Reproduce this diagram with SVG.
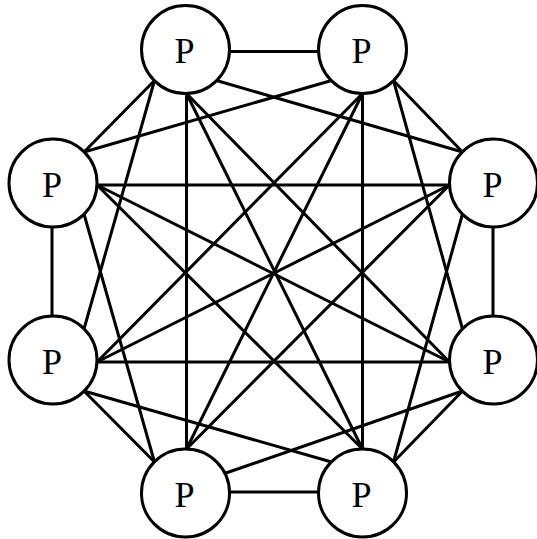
<svg xmlns="http://www.w3.org/2000/svg" width="537" height="539" viewBox="0 0 537 539">
<style>
.e{stroke:#000;stroke-width:3;fill:none;stroke-linecap:round}
.n circle{fill:#fff;stroke:#000;stroke-width:3}
.n text{font-family:"Liberation Serif","Times New Roman",serif;font-size:36px;text-anchor:middle;fill:#000}
</style>
<rect width="537" height="539" fill="#fff"/>
<g id="connectors" class="e">
<line x1="229.5" y1="51.5" x2="318.5" y2="51.5"/>
<line x1="216.5" y1="80.5" x2="462.5" y2="152"/>
<line x1="186.5" y1="93.5" x2="186.5" y2="449"/>
<line x1="186.5" y1="93.5" x2="362.5" y2="449"/>
<line x1="186.5" y1="93.5" x2="449.5" y2="362"/>
<line x1="154.5" y1="80.5" x2="84" y2="152"/>
<line x1="154.5" y1="80.5" x2="84" y2="329"/>
<line x1="331.5" y1="80.5" x2="84" y2="152"/>
<line x1="362.5" y1="93.5" x2="362.5" y2="449"/>
<line x1="362.5" y1="93.5" x2="186.5" y2="449"/>
<line x1="362.5" y1="93.5" x2="97" y2="362"/>
<line x1="393.5" y1="80.5" x2="462.5" y2="152"/>
<line x1="393.5" y1="80.5" x2="462.5" y2="329"/>
<line x1="493" y1="227" x2="493" y2="316"/>
<line x1="462.5" y1="214" x2="393.5" y2="462"/>
<line x1="449.5" y1="185" x2="97" y2="185"/>
<line x1="449.5" y1="185" x2="97" y2="362"/>
<line x1="449.5" y1="185" x2="186.5" y2="449"/>
<line x1="449.5" y1="362" x2="97" y2="362"/>
<line x1="449.5" y1="362" x2="97" y2="185"/>
<line x1="462.5" y1="391" x2="393.5" y2="462"/>
<line x1="462.5" y1="391" x2="226" y2="473"/>
<line x1="318.5" y1="492" x2="229.5" y2="492"/>
<line x1="331.5" y1="462" x2="84" y2="391"/>
<line x1="362.5" y1="449" x2="97" y2="185"/>
<line x1="154.5" y1="462" x2="84" y2="391"/>
<line x1="154.5" y1="462" x2="84" y2="214"/>
<line x1="52" y1="227" x2="52" y2="316"/>
</g>
<g id="node-tl" class="n"><circle cx="185.5" cy="49.5" r="44"/><text x="184.5" y="63">P</text></g>
<g id="node-tr" class="n"><circle cx="362.5" cy="49.5" r="44"/><text x="361.5" y="63">P</text></g>
<g id="node-ru" class="n"><circle cx="493.5" cy="183" r="44"/><text x="492.5" y="196.5">P</text></g>
<g id="node-rl" class="n"><circle cx="493.5" cy="360" r="44"/><text x="492.5" y="373.5">P</text></g>
<g id="node-br" class="n"><circle cx="362.5" cy="493" r="44"/><text x="361.5" y="506.5">P</text></g>
<g id="node-bl" class="n"><circle cx="185.5" cy="493" r="44"/><text x="184.5" y="506.5">P</text></g>
<g id="node-ll" class="n"><circle cx="53" cy="360" r="44"/><text x="52" y="373.5">P</text></g>
<g id="node-lu" class="n"><circle cx="53" cy="183" r="44"/><text x="52" y="196.5">P</text></g>
</svg>
